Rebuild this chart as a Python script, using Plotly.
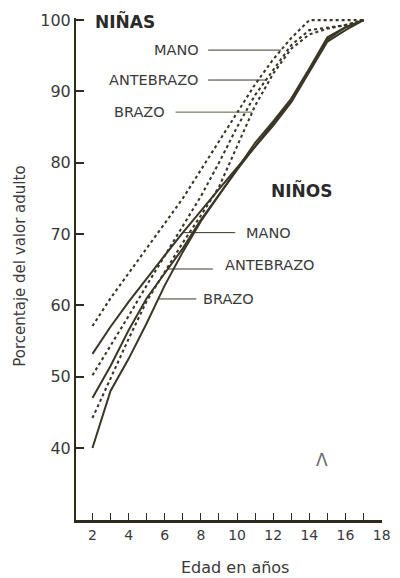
import numpy as np
import plotly.graph_objects as go

ages = [2, 3, 4, 5, 6, 7, 8, 9, 10, 11, 12, 13, 14, 15, 16, 17]

girls_mano = [57.1, 61.0, 64.5, 68.0, 71.5, 75.0, 79.0, 83.0, 87.0, 91.0, 94.5, 97.5, 100.0, 100.0, 100.0, 100.0]
girls_antebrazo = [50.2, 54.3, 58.5, 62.8, 67.0, 71.2, 75.3, 80.0, 85.0, 89.5, 93.0, 96.5, 98.6, 99.0, 99.3, 100.0]
girls_brazo = [44.2, 49.8, 55.3, 60.6, 64.8, 68.8, 72.6, 76.6, 82.3, 88.0, 92.5, 96.0, 98.0, 98.8, 99.3, 100.0]

boys_mano = [53.2, 57.0, 60.5, 63.8, 67.0, 70.2, 73.3, 76.3, 79.3, 82.3, 85.2, 88.5, 92.8, 97.0, 98.6, 100.0]
boys_antebrazo = [47.0, 51.5, 56.5, 61.0, 64.5, 68.0, 72.0, 75.5, 79.0, 82.3, 85.5, 88.8, 93.0, 97.3, 99.0, 100.0]
boys_brazo = [40.0, 48.0, 52.5, 57.5, 62.8, 67.5, 71.8, 75.5, 79.2, 82.8, 85.8, 89.0, 93.2, 97.6, 99.0, 100.0]

x_ticks = list(range(2, 19))
x_labels = [str(v) if v % 2 == 0 else "" for v in x_ticks]
y_ticks = [40, 50, 60, 70, 80, 90, 100]

part_labels = ["MANO", "ANTEBRAZO", "BRAZO"]
group_labels = ["NIÑAS", "NIÑOS"]

INK = "#3b3726"
TXT = "#3a3a3a"
FONT = "DejaVu Sans"

fig = go.Figure()
for s in [girls_mano, girls_antebrazo, girls_brazo]:
    fig.add_trace(go.Scatter(x=ages, y=s, mode="lines",
                             line=dict(color=INK, width=2.1, dash="dot"),
                             showlegend=False, hoverinfo="skip", cliponaxis=False))
for s in [boys_mano, boys_antebrazo, boys_brazo]:
    fig.add_trace(go.Scatter(x=ages, y=s, mode="lines",
                             line=dict(color=INK, width=2),
                             showlegend=False, hoverinfo="skip", cliponaxis=False))


def age_at(series, val):
    return float(np.interp(val, series, ages))


# girls pointers: text on left, line to curve on right
girl_ptr_vals = [95.8, 91.6, 87.1]
girl_series = [girls_mano, girls_antebrazo, girls_brazo]
girl_text_end = [8.0, 8.0, 6.15]
girl_line_start = [8.4, 8.4, 6.6]
girl_colors = [INK, INK, "#4f6a38"]
for lab, v, s, te, ls, c in zip(part_labels, girl_ptr_vals, girl_series,
                                girl_text_end, girl_line_start, girl_colors):
    fig.add_shape(type="line", xref="x", yref="y", x0=ls, x1=age_at(s, v),
                  y0=v, y1=v, line=dict(color=c, width=1))
    fig.add_annotation(x=te, y=v, xref="x", yref="y", text=lab, showarrow=False,
                       xanchor="right", yanchor="middle",
                       font=dict(family=FONT, size=14.5, color=TXT))

# boys pointers: line from curve on left to text on right
boy_ptr_vals = [70.2, 65.1, 60.9]
boy_text_vals = [70.2, 65.7, 60.9]
boy_series = [boys_mano, boys_antebrazo, boys_brazo]
boy_text_start = [10.38, 9.25, 8.0]
boy_line_end = [9.9, 8.66, 7.75]
for lab, v, tv, s, ts, le in zip(part_labels, boy_ptr_vals, boy_text_vals,
                                 boy_series, boy_text_start, boy_line_end):
    fig.add_shape(type="line", xref="x", yref="y", x0=age_at(s, v), x1=le,
                  y0=v, y1=v, line=dict(color=INK, width=1))
    fig.add_annotation(x=ts, y=tv, xref="x", yref="y", text=lab, showarrow=False,
                       xanchor="left", yanchor="middle",
                       font=dict(family=FONT, size=14.5, color=TXT))

# group labels
fig.add_annotation(x=(93 - 76) / 315, y=(520 - 21) / 502, xref="paper", yref="paper",
                   text="<b>" + group_labels[0] + "</b>", showarrow=False,
                   xanchor="left", yanchor="middle",
                   font=dict(family=FONT, size=17, color="#2a2a2a"))
fig.add_annotation(x=(275 - 76) / 315, y=(520 - 190) / 502, xref="paper", yref="paper",
                   text="<b>" + group_labels[1] + "</b>", showarrow=False,
                   xanchor="left", yanchor="middle",
                   font=dict(family=FONT, size=17, color="#2a2a2a"))

# axis titles
fig.add_annotation(x=(18 - 76) / 315, y=(520 - 266) / 502, xref="paper", yref="paper",
                   text="Porcentaje del valor adulto", textangle=-90, showarrow=False,
                   xanchor="center", yanchor="middle",
                   font=dict(family=FONT, size=15, color=TXT))
fig.add_annotation(x=(240 - 76) / 315, y=(520 - 567) / 502, xref="paper", yref="paper",
                   text="Edad en años", showarrow=False,
                   xanchor="center", yanchor="middle",
                   font=dict(family=FONT, size=16, color=TXT))
fig.add_annotation(x=(329 - 76) / 315, y=(520 - 460) / 502, xref="paper", yref="paper",
                   text="Λ", showarrow=False, xanchor="center", yanchor="middle",
                   font=dict(family=FONT, size=17, color="#6a6a6a"))

fig.update_layout(
    width=400, height=578,
    margin=dict(l=76, r=9, t=18, b=58),
    paper_bgcolor="white", plot_bgcolor="white",
    xaxis=dict(range=[1.09, 18.02], tickvals=x_ticks, ticktext=x_labels,
               showline=True, linewidth=3, linecolor="#2e2b1e",
               ticks="inside", ticklen=7, tickwidth=1.2, tickcolor="#2e2b1e",
               showgrid=False, zeroline=False,
               tickfont=dict(family=FONT, size=14, color=TXT)),
    yaxis=dict(range=[29.9, 100.3], tickvals=y_ticks,
               showline=True, linewidth=2, linecolor="#2e2b1e",
               ticks="inside", ticklen=8, tickwidth=1.5, tickcolor="#2e2b1e",
               showgrid=False, zeroline=False,
               tickfont=dict(family=FONT, size=16, color=TXT)),
)

fig.write_html("out.html")
